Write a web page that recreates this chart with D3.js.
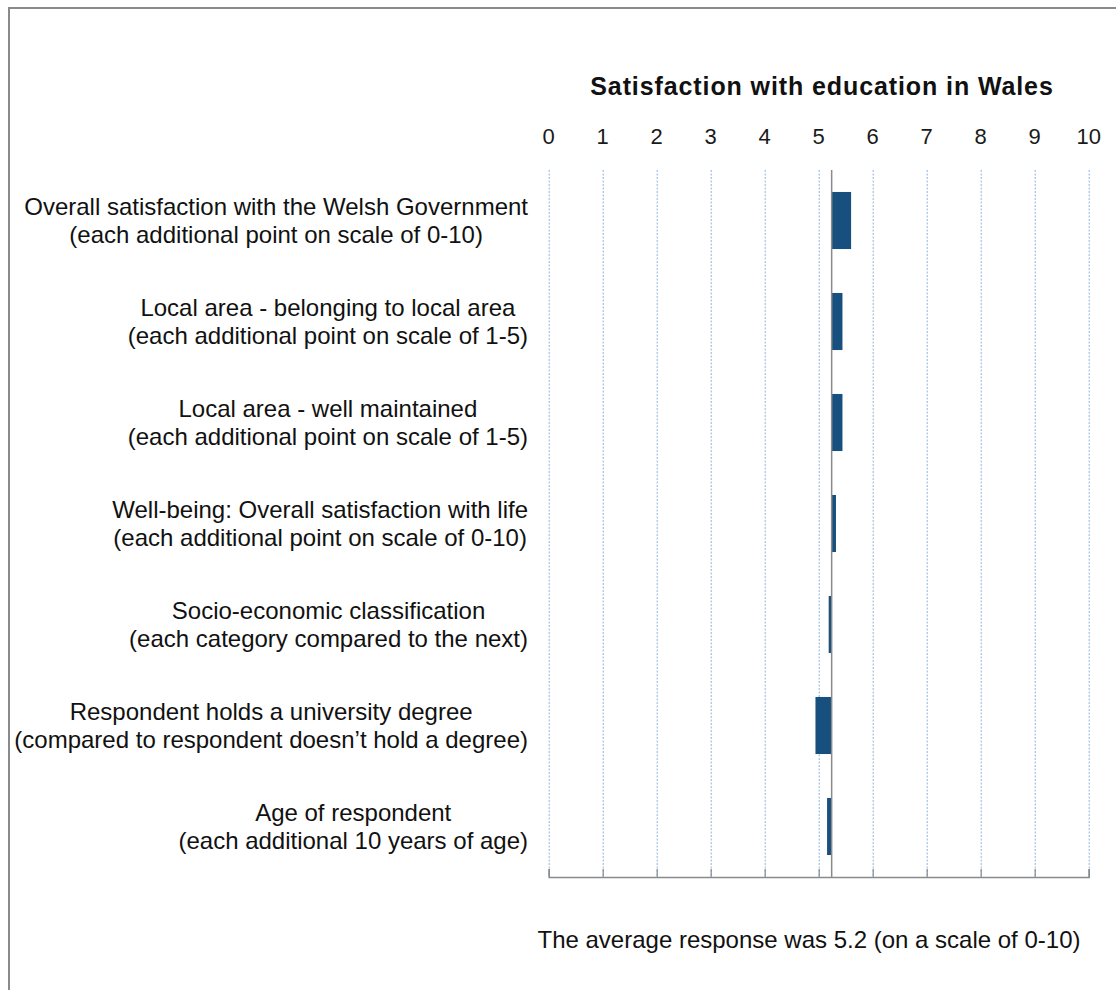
<!DOCTYPE html>
<html>
<head>
<meta charset="utf-8">
<script src="https://cdn.jsdelivr.net/npm/d3@7"></script>
<style>
  html, body { margin: 0; padding: 0; background: #fff; }
  svg { display: block; }
</style>
</head>
<body>
<svg id="chart" width="1116" height="990"></svg>
<script>
// ---- Data ----
const title = "Satisfaction with education in Wales";
const note = "The average response was 5.2 (on a scale of 0-10)";
const categories = [
  ["Overall satisfaction with the Welsh Government", "(each additional point on scale of 0-10)"],
  ["Local area - belonging to local area", "(each additional point on scale of 1-5)"],
  ["Local area - well maintained", "(each additional point on scale of 1-5)"],
  ["Well-being: Overall satisfaction with life", "(each additional point on scale of 0-10)"],
  ["Socio-economic classification", "(each category compared to the next)"],
  ["Respondent holds a university degree", "(compared to respondent doesn\u2019t hold a degree)"],
  ["Age of respondent", "(each additional 10 years of age)"]
];
const baseline = 5.24;            // average response
const effects = [0.36, 0.20, 0.20, 0.08, -0.055, -0.30, -0.085];
const tickValues = [0, 1, 2, 3, 4, 5, 6, 7, 8, 9, 10];

// ---- Layout ----
const svg = d3.select("#chart");
const plot = { left: 548.7, right: 1088.7, top: 170, bottom: 877 };

const x = d3.scaleLinear().domain([0, 10]).range([plot.left, plot.right]);
const y = d3.scaleBand().domain(d3.range(categories.length))
  .range([plot.top, plot.bottom]).paddingInner(0.435).paddingOuter(0.2175);

// outer border
svg.append("rect").attr("x", 9).attr("y", 8).attr("width", 1130).attr("height", 1010)
  .attr("fill", "none").attr("stroke", "#8a8a8a").attr("stroke-width", 2);

// gridlines
svg.append("g").selectAll("line").data(tickValues).join("line")
  .attr("x1", d => x(d) + 0.5).attr("x2", d => x(d) + 0.5)
  .attr("y1", plot.top).attr("y2", plot.bottom)
  .attr("stroke", "#8fb4dc").attr("stroke-width", 1).attr("stroke-dasharray", "2,1.5");

// top tick labels
svg.append("g").selectAll("text").data(tickValues).join("text")
  .attr("x", d => x(d)).attr("y", 144)
  .attr("text-anchor", "middle")
  .attr("font-family", "Liberation Sans, Arial, sans-serif")
  .attr("font-size", 22).attr("fill", "#1a1a1a")
  .text(d => d);

// bottom axis
const axis = d3.axisBottom(x).tickValues(tickValues).tickSize(-8).tickFormat("");
const gAxis = svg.append("g").attr("transform", `translate(0,${plot.bottom})`).call(axis);
gAxis.select(".domain").attr("stroke", "#8a8a8a").attr("stroke-width", 1.5);
gAxis.selectAll(".tick line").attr("stroke", "#8a8a8a").attr("stroke-width", 1.2);

// bars
svg.append("g").selectAll("rect").data(effects).join("rect")
  .attr("x", d => Math.min(x(baseline), x(baseline + d)))
  .attr("width", d => Math.abs(x(baseline + d) - x(baseline)))
  .attr("y", (d, i) => y(i))
  .attr("height", y.bandwidth())
  .attr("fill", "#17507e");

// baseline vertical line
svg.append("line")
  .attr("x1", x(baseline)).attr("x2", x(baseline))
  .attr("y1", plot.top).attr("y2", plot.bottom)
  .attr("stroke", "#8a8a8a").attr("stroke-width", 1.5);

// category labels
const labelRight = 528;
const lab = svg.append("g").selectAll("g").data(categories).join("g");
lab.each(function(lines, i) {
  const g = d3.select(this);
  const cy = y(i) + y.bandwidth() / 2;
  const t = g.selectAll("text").data(lines).join("text")
    .attr("y", (d, j) => cy + (j === 0 ? -14 : 14))
    .attr("dy", "0.35em")
    .attr("text-anchor", "middle")
    .attr("font-family", "Liberation Sans, Arial, sans-serif")
    .attr("font-size", 24).attr("fill", "#111")
    .text(d => d);
  let w = 0;
  t.each(function() { w = Math.max(w, this.getComputedTextLength()); });
  t.attr("x", labelRight - w / 2);
});

// title
svg.append("text").attr("x", 822).attr("y", 86).attr("dy", "0.35em")
  .attr("text-anchor", "middle")
  .attr("font-family", "Liberation Sans, Arial, sans-serif")
  .attr("font-weight", "bold").attr("font-size", 25).attr("letter-spacing", 0.9)
  .attr("fill", "#111").text(title);

// note
svg.append("text").attr("x", 809).attr("y", 940).attr("dy", "0.35em")
  .attr("text-anchor", "middle")
  .attr("font-family", "Liberation Sans, Arial, sans-serif")
  .attr("font-size", 24).attr("fill", "#111").text(note);
</script>
</body>
</html>
